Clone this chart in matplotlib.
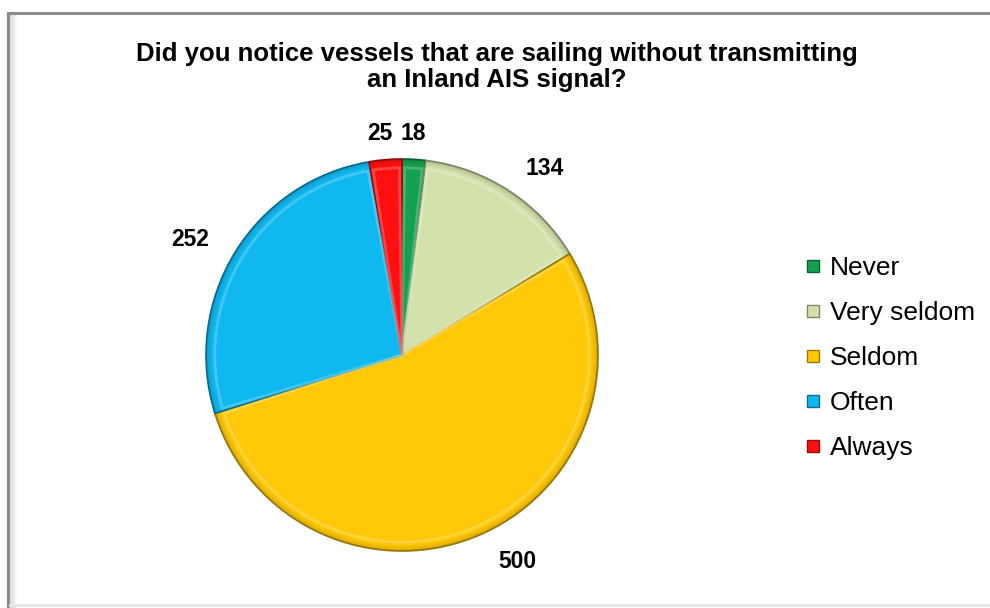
import matplotlib
matplotlib.use("Agg")
import matplotlib.pyplot as plt
from matplotlib.patches import Wedge
from matplotlib.lines import Line2D
import matplotlib.colors as mcolors
import numpy as np

plt.rcParams['font.family'] = ['Liberation Sans', 'DejaVu Sans']

# Survey answers
categories = ["Never", "Very seldom", "Seldom", "Often", "Always"]
counts = [18, 134, 500, 252, 25]
colors = ["#13a050", "#d3e2ab", "#ffc808", "#10b8f0", "#ff1010"]
title = "Did you notice vessels that are sailing without transmitting\nan Inland AIS signal?"

# Data label placement: radial distance and angular nudge (degrees)
label_dist = [1.129, 1.201, 1.208, 1.231, 1.134]
label_turn = [0.7, -4.5, 4.9, 3.0, 0.9]

W, H = 990, 608
fig = plt.figure(figsize=(W / 100, H / 100), dpi=100)

# Outer chart frame with a soft inner shadow on the left
frame = fig.add_axes([0, 0, 1, 1])
frame.set_xlim(0, W)
frame.set_ylim(H, 0)
frame.axis("off")
for i, a in enumerate(np.linspace(0.35, 0.0, 8)):
    frame.plot([10 + i, 10 + i], [15, H], color="#b0b0b0", alpha=a, lw=1)
frame.plot([8, W], [13, 13], color="#8c8c8c", lw=2.2)
frame.plot([8, 8], [13, H], color="#8c8c8c", lw=2.2)
frame.plot([10, W], [605, 605], color="#e6e6e6", lw=2)

# Pie area
cx, cy, r = 402, 355, 196
ax = fig.add_axes([(cx - r) / W, (H - cy - r) / H, 2 * r / W, 2 * r / H])

def shade(c, f):
    rgb = np.array(mcolors.to_rgb(c))
    if f < 1:
        return tuple(rgb * f)
    return tuple(rgb + (1 - rgb) * (f - 1))

wedges, texts = ax.pie(
    counts, colors=colors, startangle=90, counterclock=False,
    labels=[str(v) for v in counts], labeldistance=1.15,
    wedgeprops=dict(linewidth=1.2, edgecolor="none"),
    textprops=dict(fontsize=16.5, fontweight="bold", color="black"),
)
for w, c in zip(wedges, colors):
    w.set_edgecolor(shade(c, 0.6))
    # darkened rim, fading inward
    for k, a in enumerate([0.30, 0.16, 0.07]):
        ax.add_patch(Wedge(w.center, w.r * (1 - 0.01 * k), w.theta1, w.theta2,
                           width=0.01 * w.r, facecolor=shade(c, 0.5),
                           edgecolor="none", alpha=a))
    # inner highlight for a bevelled look
    ax.add_patch(Wedge(w.center, w.r * 0.955, w.theta1 + 0.8, w.theta2 - 0.8,
                       facecolor="none", edgecolor=shade(c, 1.35),
                       linewidth=2.0, alpha=0.6))
for t, w, d, turn in zip(texts, wedges, label_dist, label_turn):
    ang = np.deg2rad((w.theta1 + w.theta2) / 2 + turn)
    t.set_position((d * np.cos(ang), d * np.sin(ang)))
    t.set_ha("center")
    t.set_va("center")
ax.set_xlim(-1, 1)
ax.set_ylim(-1, 1)
ax.set_aspect("equal")

fig.text(497 / W, 1 - 67 / H, title, ha="center", va="center",
         fontsize=18.5, fontweight="bold", linespacing=1.1)

handles = [Line2D([], [], marker="s", linestyle="none", markersize=8.5,
                  markerfacecolor=c, markeredgecolor=shade(c, 0.6),
                  markeredgewidth=1.0) for c in colors]
fig.legend(handles, categories, loc="upper left",
           bbox_to_anchor=(805 / W, 1 - 256 / H), frameon=False,
           fontsize=19, handlelength=0.6, handletextpad=0.35,
           labelspacing=0.8, borderaxespad=0, borderpad=0)

fig.savefig("out.png", dpi=100)
